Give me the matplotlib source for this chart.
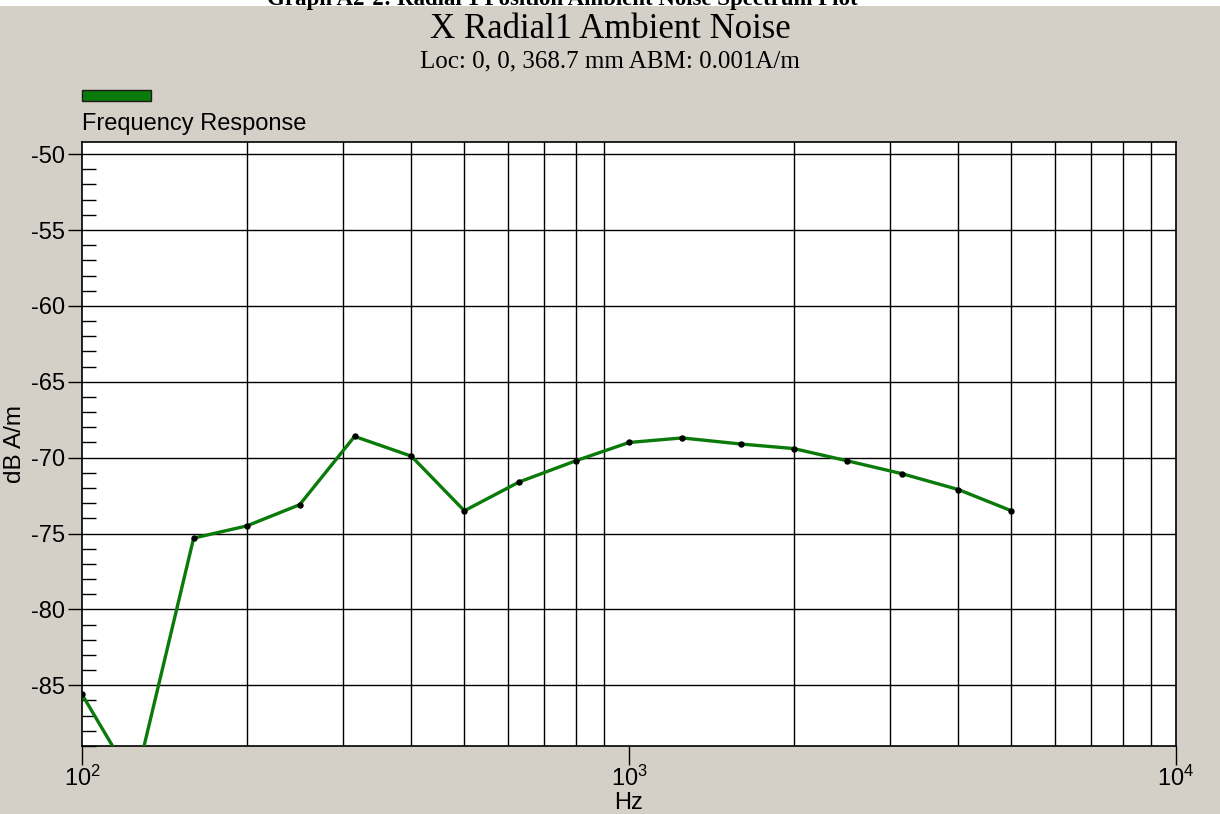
import numpy as np
import matplotlib
matplotlib.use('Agg')
import matplotlib.pyplot as plt
from matplotlib.ticker import FixedLocator, FixedFormatter, NullFormatter
from matplotlib.patches import Rectangle

# 1/3 octave centre frequencies and levels
freq = [100, 125, 160, 200, 250, 315, 400, 500, 630, 800,
        1000, 1250, 1600, 2000, 2500, 3150, 4000, 5000]
level = [-85.6, -91.5, -75.3, -74.5, -73.1, -68.6, -69.9, -73.5, -71.6, -70.2,
         -69.0, -68.7, -69.1, -69.4, -70.2, -71.05, -72.1, -73.5]

x_major = [100, 1000, 10000]
x_labels = ['$\\mathregular{10^{2}}$', '$\\mathregular{10^{3}}$', '$\\mathregular{10^{4}}$']
y_major = [-85, -80, -75, -70, -65, -60, -55, -50]

bg = '#d4d0c8'
green = '#0a7a0a'
sans = ['Liberation Sans', 'DejaVu Sans']
serif = ['Liberation Serif', 'DejaVu Serif']

plt.rcParams['font.family'] = sans

fig = plt.figure(figsize=(12.2, 8.14), dpi=100, facecolor=bg)
ax = fig.add_axes([82 / 1220, 68 / 814, 1094 / 1220, 604 / 814])
ax.set_facecolor('white')

ax.set_xscale('log')
ax.set_xlim(100, 10000)
ax.set_ylim(-89.0, -49.2)

# grid
minor_x = [m * 10 ** d for d in (2, 3) for m in range(2, 10)]
for xv in minor_x:
    ax.axvline(xv, color='black', lw=1.0, zorder=1)
for yv in y_major:
    ax.axhline(yv, color='black', lw=1.0, zorder=1)

ax.plot(freq, level, color=green, lw=2.4, zorder=3)
ax.plot(freq, level, 'o', color='black', ms=3.6, zorder=4)

ax.xaxis.set_major_locator(FixedLocator(x_major))
ax.xaxis.set_major_formatter(FixedFormatter(x_labels))
ax.xaxis.set_minor_locator(FixedLocator([]))
ax.xaxis.set_minor_formatter(NullFormatter())
ax.tick_params(axis='x', which='major', direction='out', length=14, width=1,
               labelsize=17, pad=0)

ax.yaxis.set_major_locator(FixedLocator(y_major))
ax.set_yticklabels([str(v) for v in y_major])
ax.yaxis.set_minor_locator(FixedLocator(np.arange(-89, -49, 1)))
ax.tick_params(axis='y', which='major', direction='out', length=10, width=1,
               labelsize=17, pad=2)
ax.tick_params(axis='y', which='minor', direction='in', length=10, width=1)

for s in ax.spines.values():
    s.set_color('black')
    s.set_linewidth(1.2)

ax.set_ylabel('dB A/m', fontsize=17.5, labelpad=4)
fig.text(629 / 1220, (814 - 803) / 814, 'Hz', fontsize=17, ha='center', va='center')

# legend swatch and label
fig.patches.append(Rectangle((82 / 1220, (814 - 101) / 814), 69 / 1220, 11 / 814,
                             transform=fig.transFigure, facecolor=green,
                             edgecolor='#1a1a1a', lw=1))
fig.text(82 / 1220, (814 - 124) / 814, 'Frequency Response', fontsize=17,
         va='center', ha='left')

# white strip at the very top, with the page caption cut off by the edge
fig.patches.append(Rectangle((0, (814 - 6) / 814), 1, 6 / 814,
                             transform=fig.transFigure, facecolor='white',
                             edgecolor='none'))
fig.text(562 / 1220, (814 - 5) / 814, 'Graph A2-2: Radial 1 Position Ambient Noise Spectrum Plot',
         family=serif, fontsize=16.5, fontweight='bold', ha='center', va='baseline')

# titles
fig.text(0.5, (814 - 30) / 814, 'X Radial1 Ambient Noise', family=serif,
         fontsize=25, ha='center', va='center')
fig.text(0.5, (814 - 61) / 814, 'Loc: 0, 0, 368.7 mm ABM: 0.001A/m', family=serif,
         fontsize=18, ha='center', va='center')

fig.savefig('out.png', dpi=100, facecolor=bg)
